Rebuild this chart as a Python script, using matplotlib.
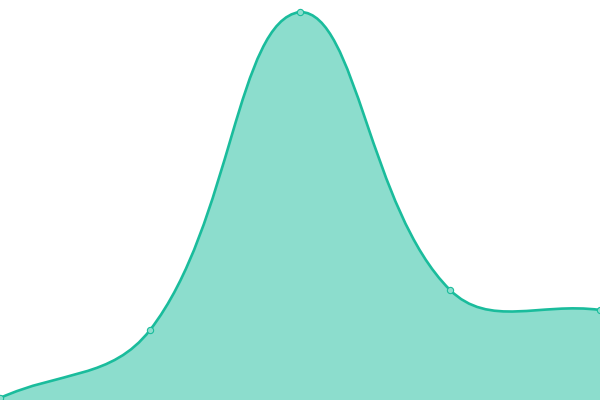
import numpy as np
import matplotlib.pyplot as plt
from matplotlib.path import Path
from matplotlib.patches import PathPatch

labels = ['A', 'B', 'C', 'D', 'E']
values = [0, 17.6, 100, 28, 22.8]

teal = '#1abc9c'
tension = 0.4

fig = plt.figure(figsize=(6, 4), dpi=100)
ax = fig.add_axes([0, 0, 1, 1])
n = len(values)
x = np.arange(n)
ax.set_xlim(0, n - 1)
ax.set_ylim(-0.52, 103.1)
ax.axis('off')

# chart.js-like spline, control points worked out in pixel space
pts = ax.transData.transform(np.column_stack([x, values]))

def controls(i):
    prev = pts[max(i - 1, 0)]
    cur = pts[i]
    nxt = pts[min(i + 1, n - 1)]
    d01 = np.hypot(*(cur - prev))
    d12 = np.hypot(*(nxt - cur))
    s01 = d01 / (d01 + d12)
    s12 = d12 / (d01 + d12)
    return cur - tension * s01 * (nxt - prev), cur + tension * s12 * (nxt - prev)

verts = [pts[0]]
codes = [Path.MOVETO]
for i in range(n - 1):
    verts += [controls(i)[1], controls(i + 1)[0], pts[i + 1]]
    codes += [Path.CURVE4] * 3
verts = ax.transData.inverted().transform(np.array(verts))
verts[:, 0] = np.clip(verts[:, 0], 0, n - 1)
verts[:, 1] = np.clip(verts[:, 1], 0, max(values))

y0 = ax.get_ylim()[0]
fill_verts = np.vstack([verts, [[n - 1, y0], [0, y0], verts[0]]])
fill_codes = codes + [Path.LINETO, Path.LINETO, Path.CLOSEPOLY]
ax.add_patch(PathPatch(Path(fill_verts, fill_codes), facecolor=teal, alpha=0.5,
                       edgecolor='none'))
ax.add_patch(PathPatch(Path(verts, codes), facecolor='none', edgecolor=teal, lw=1.9))

ax.plot(x, values, 'o', ms=4.5, mfc='#8ddece', mec=teal, mew=0.8, clip_on=False)

fig.savefig('out.png', dpi=100)
